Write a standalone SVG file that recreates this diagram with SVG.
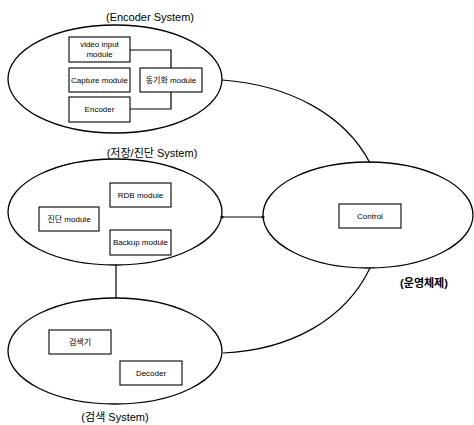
<svg xmlns="http://www.w3.org/2000/svg" width="474" height="425" viewBox="0 0 474 425">
<style>
.ell{fill:none;stroke:#000;stroke-width:1.3}
.box{fill:#fff;stroke:#000;stroke-width:1.1}
.con{fill:none;stroke:#000;stroke-width:1.2}
.t{font-family:"Liberation Sans","Noto Sans CJK KR",sans-serif;font-size:8px;text-anchor:middle;fill:#000}
.lbl{font-family:"Liberation Sans","Noto Sans CJK KR",sans-serif;font-size:11px;text-anchor:middle;fill:#000}
.b{font-weight:bold}
</style>
<rect width="474" height="425" fill="#fff"/>
<g id="connectors">
<path class="con" d="M222,80 C290,85 345,115 370,163"/>
<path class="con" d="M223,353 C290,350 345,320 370,268"/>
<line class="con" x1="222" y1="217" x2="263" y2="217"/>
<circle cx="222" cy="217" r="1.6" fill="#000"/>
<circle cx="263" cy="217" r="1.6" fill="#000"/>
<line class="con" x1="116" y1="265" x2="116" y2="298"/>
<polyline class="con" points="130,50 171,50 171,68"/>
<polyline class="con" points="130,109 171,109 171,92"/>
</g>
<g id="encoder-system">
<text class="lbl" x="150" y="21">(Encoder System)</text>
<ellipse class="ell" cx="115" cy="79" rx="107" ry="54"/>
</g>
<g id="video-input">
<rect class="box" x="69" y="37" width="61" height="25"/>
<text class="t" x="99.5" y="47">video input</text>
<text class="t" x="99.5" y="57">module</text>
</g>
<g id="capture">
<rect class="box" x="69" y="68" width="61" height="24"/>
<text class="t" x="99.5" y="83">Capture module</text>
</g>
<g id="encoder">
<rect class="box" x="69" y="97" width="61" height="25"/>
<text class="t" x="99.5" y="112">Encoder</text>
</g>
<g id="sync">
<rect class="box" x="140" y="68" width="62" height="24"/>
<text class="t" x="171" y="83">동기화  module</text>
</g>
<g id="storage-system">
<text class="lbl" x="152" y="157">(저장/진단 System)</text>
<ellipse class="ell" cx="115" cy="212" rx="107" ry="53"/>
</g>
<g id="rdb">
<rect class="box" x="110" y="183" width="61" height="24"/>
<text class="t" x="140.5" y="198">RDB module</text>
</g>
<g id="diag">
<rect class="box" x="39" y="207" width="60" height="24"/>
<text class="t" x="69" y="222">진단  module</text>
</g>
<g id="backup">
<rect class="box" x="110" y="230" width="61" height="25"/>
<text class="t" x="140.5" y="245">Backup module</text>
</g>
<g id="control-system">
<ellipse class="ell" cx="368" cy="215" rx="105" ry="53"/>
<text class="lbl b" x="424" y="287">(운영체제)</text>
</g>
<g id="control">
<rect class="box" x="339" y="204" width="62" height="24"/>
<text class="t" x="370" y="219">Control</text>
</g>
<g id="search-system">
<ellipse class="ell" cx="115" cy="351" rx="107" ry="53"/>
<text class="lbl" x="115" y="421">(검색 System)</text>
</g>
<g id="searcher">
<rect class="box" x="49" y="330" width="62" height="24"/>
<text class="t" x="80" y="345">검색기</text>
</g>
<g id="decoder">
<rect class="box" x="120" y="361" width="62" height="24"/>
<text class="t" x="151" y="376">Decoder</text>
</g>
</svg>
